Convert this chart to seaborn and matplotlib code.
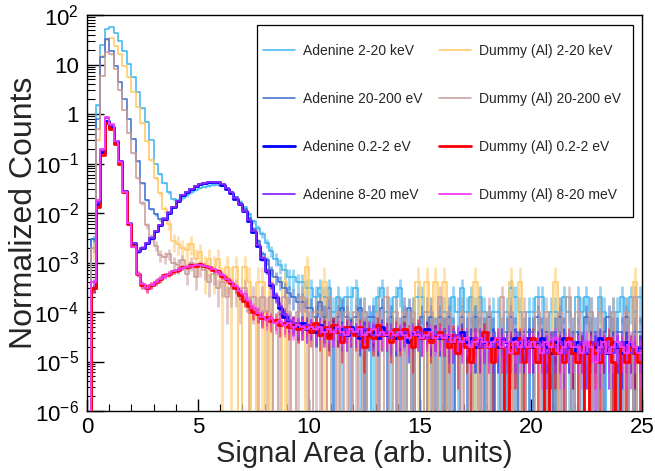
import numpy as np
import seaborn as sns
import matplotlib
matplotlib.use('Agg')
import matplotlib.pyplot as plt
from matplotlib.patches import Rectangle
from matplotlib.ticker import FixedLocator, FixedFormatter, MultipleLocator, LogLocator, NullFormatter

# Histogram binning of the signal area axis (0.2 wide bins over 0-25)
bin_width = 0.2
edges = np.arange(0, 25 + bin_width / 2, bin_width)
centers = edges[:-1] + bin_width / 2

# Normalized counts per bin
ade_kev = [
    0, 0.003, 1.5, 25, 52, 57, 43, 30, 19, 10.5,
    5.5, 2.8, 1.3, 0.7, 0.3, 0.1, 0.062, 0.04, 0.026, 0.019,
    0.018, 0.02, 0.023, 0.026, 0.029, 0.032, 0.034, 0.036, 0.037, 0.037,
    0.035, 0.031, 0.026, 0.021, 0.017, 0.013, 0.0095, 0.0068, 0.005, 0.0037,
    0.0025, 0.0017, 0.0012, 0.0009, 0.0007, 0.0005, 0.0005, 0.0004, 0.0004, 0.0003,
    0.0003, 0.0002, 0.0003, 0.0002, 0.0003, 0.0001, 0.0002, 0.0001, 0.0002, 0.0002,
    0.0003, 0.0001, 0.0001, 0, 0.0001, 0.0002, 0.0003, 0.0001, 0.0001, 0.0002,
    0.0003, 0.0001, 0, 0.0001, 0.0002, 0.0002, 0.0001, 0.0001, 0, 0.0001,
    0.0001, 0.0001, 0.0002, 0.0001, 0.0003, 0.0001, 0.0002, 0.0001, 0.0002, 0.0001,
    0, 0.0001, 0.0001, 0, 0.0001, 0.0003, 0.0002, 0.0001, 0, 0.0001,
    0.0001, 0.0002, 0.0002, 0, 0.0001, 0.0001, 0.0001, 0.0002, 0.0001, 0,
    0.0002, 0.0001, 0.0002, 0.0001, 0, 0.0002, 0.0001, 0, 0.0001, 0.0001,
    0.0002, 0.0001, 0.0002, 0.0001, 0.0002,
]
dum_kev = [
    0, 0.002, 0.3, 15, 32, 34, 24, 16, 9.5, 5.5,
    2.8, 1.4, 0.65, 0.28, 0.12, 0.05, 0.025, 0.012, 0.006, 0.0027,
    0.0024, 0.002, 0.0018, 0.0024, 0.0012, 0.0016, 0.0008, 0.0012, 0.0008, 0.0012,
    0.0004, 0.0008, 0.0004, 0.0008, 0, 0.0008, 0.0004, 0, 0.0004, 0.0004,
    0, 0.0004, 0, 0, 0.0004, 0, 0, 0, 0, 0.0008,
    0, 0, 0, 0.0004, 0, 0, 0, 0, 0, 0,
    0, 0, 0, 0, 0, 0, 0, 0, 0, 0,
    0, 0, 0, 0, 0.0004, 0, 0.0004, 0, 0.0004, 0,
    0.0004, 0, 0, 0, 0, 0, 0, 0.0004, 0, 0,
    0, 0, 0, 0, 0, 0.0004, 0, 0.0004, 0, 0,
    0, 0, 0, 0, 0, 0.0004, 0, 0, 0, 0,
    0, 0, 0, 0, 0, 0, 0, 0, 0, 0,
    0, 0, 0, 0.0004, 0,
]
ade_ev = [
    0, 0.003, 0.8, 14, 33, 19, 9.5, 4.5, 2.0, 0.8,
    0.32, 0.11, 0.04, 0.018, 0.012, 0.0095, 0.0075, 0.0078, 0.0103, 0.0133,
    0.0172, 0.023, 0.027, 0.031, 0.035, 0.038, 0.040, 0.042, 0.043, 0.042,
    0.038, 0.032, 0.027, 0.021, 0.016, 0.0118, 0.0078, 0.0048, 0.0027, 0.0015,
    0.0011, 0.0007, 0.0005, 0.0004, 0.0003, 0.00024, 0.0002, 0.00016, 0.00016, 0.00012,
    0.00012, 0.00008, 0.00016, 0.00008, 0.00012, 0.00004, 0.00008, 0.00012, 0.00008, 0.00004,
    0.00008, 0.00012, 0.00004, 0.00008, 0.00008, 0.00004, 0.00012, 0.00004, 0.00008, 0.00004,
    0.00004, 0.00008, 0.00012, 0.00004, 0, 0.00008, 0.00004, 0.00008, 0.00004, 0.00008,
    0.00004, 0.00008, 0.00004, 0, 0.00008, 0.00004, 0.00004, 0.00008, 0.00004, 0.00004,
    0.00008, 0.00004, 0, 0.00004, 0.00004, 0.00008, 0.00004, 0, 0.00004, 0.00004,
    0.00004, 0.00008, 0.00004, 0.00004, 0, 0.00004, 0.00008, 0.00004, 0, 0.00004,
    0.00004, 0, 0.00008, 0.00004, 0.00004, 0, 0.00004, 0.00008, 0.00004, 0.00004,
    0.00004, 0.00008, 0, 0.00004, 0.00004,
]
dum_ev = [
    0, 0.002, 0.5, 6, 18, 16, 8, 3.0, 1.2, 0.42,
    0.16, 0.05, 0.016, 0.0056, 0.0032, 0.0022, 0.0014, 0.0013, 0.0015, 0.001,
    0.0009, 0.0011, 0.0006, 0.001, 0.0005, 0.0008, 0.0007, 0.0004, 0.0006, 0.0003,
    0.0004, 0.0002, 0.0003, 0.0003, 0.0002, 0.0003, 0.0001, 0.0002, 0.0001, 0.0002,
    0.0001, 0.0002, 0, 0.0001, 0.0002, 0.0001, 0, 0.0001, 0.0002, 0.0001,
    0, 0.0001, 0.0001, 0, 0.0002, 0, 0.0001, 0, 0.0001, 0,
    0.0001, 0, 0.0001, 0, 0, 0.0001, 0, 0.0002, 0, 0.0001,
    0, 0.0001, 0, 0.0001, 0, 0, 0.0001, 0.0001, 0, 0.0002,
    0, 0.0001, 0, 0, 0.0001, 0, 0.0001, 0, 0.0001, 0,
    0.0001, 0, 0, 0.0002, 0, 0.0001, 0, 0, 0.0001, 0,
    0, 0.0001, 0, 0.0001, 0, 0, 0.0001, 0, 0.0002, 0,
    0.0001, 0, 0, 0.0001, 0, 0.0001, 0, 0, 0.0001, 0,
    0, 0.0001, 0, 0.0002, 0,
]
ade_thermal = [
    0, 0.0003, 0.015, 0.17, 0.74, 0.56, 0.28, 0.11, 0.028, 0.0063,
    0.0025, 0.0017, 0.0020, 0.0025, 0.0032, 0.0043, 0.0058, 0.0076, 0.0102, 0.0135,
    0.0174, 0.023, 0.027, 0.031, 0.035, 0.038, 0.040, 0.042, 0.043, 0.042,
    0.037, 0.031, 0.025, 0.0195, 0.015, 0.0108, 0.0069, 0.0042, 0.0022, 0.00118,
    0.00066, 0.00035, 0.0002, 0.00012, 8e-5, 6.3e-5, 5.6e-5, 5e-5, 6e-5, 4.5e-5,
    5e-5, 4e-5, 5.5e-5, 4.5e-5, 3.5e-5, 5e-5, 4e-5, 4.5e-5, 3.5e-5, 5e-5,
    4e-5, 3e-5, 4.5e-5, 3.5e-5, 4e-5, 3e-5, 5e-5, 3.5e-5, 4e-5, 3e-5,
    3.5e-5, 4e-5, 2.5e-5, 4e-5, 3.5e-5, 3e-5, 4.5e-5, 3e-5, 3.5e-5, 3e-5,
    3e-5, 3.5e-5, 2.5e-5, 3e-5, 4e-5, 2.5e-5, 3e-5, 2e-5, 3e-5, 2.5e-5,
    2.5e-5, 3e-5, 2e-5, 3e-5, 2.5e-5, 2e-5, 3e-5, 2.5e-5, 2e-5, 3e-5,
    2e-5, 2.5e-5, 3e-5, 2e-5, 1.5e-5, 2.5e-5, 2e-5, 3e-5, 2e-5, 1.5e-5,
    2.5e-5, 2e-5, 1.5e-5, 2.5e-5, 2e-5, 3e-5, 2e-5, 1.5e-5, 2.5e-5, 2e-5,
    1.5e-5, 2.5e-5, 2e-5, 1.5e-5, 2e-5,
]
dum_thermal = [
    0, 0.0003, 0.013, 0.15, 0.65, 0.5, 0.25, 0.1, 0.026, 0.006,
    0.0022, 0.0006, 0.00035, 0.0003, 0.00035, 0.00041, 0.00046, 0.00055, 0.00059, 0.00067,
    0.00071, 0.0008, 0.00082, 0.00088, 0.00087, 0.00093, 0.00086, 0.00082, 0.00071, 0.00066,
    0.00053, 0.00046, 0.00038, 0.0003, 0.00022, 0.00017, 0.00013, 0.0001, 9e-5, 7.5e-5,
    8e-5, 6.5e-5, 7e-5, 5.5e-5, 6e-5, 5e-5, 6e-5, 4.5e-5, 5e-5, 5.5e-5,
    4e-5, 6e-5, 3.5e-5, 5e-5, 3e-5, 5.5e-5, 4e-5, 2.5e-5, 5e-5, 4e-5,
    3.5e-5, 5e-5, 2e-5, 4.5e-5, 3e-5, 5.5e-5, 3.5e-5, 4e-5, 2.5e-5, 4.5e-5,
    3e-5, 4.5e-5, 3.5e-5, 2e-5, 5e-5, 3e-5, 4e-5, 2.5e-5, 3.5e-5, 4e-5,
    3e-5, 2e-5, 3.5e-5, 1.5e-5, 3e-5, 2e-5, 1e-5, 3e-5, 2e-5, 4e-5,
    2e-5, 1e-5, 3e-5, 2e-5, 0, 2.5e-5, 1.5e-5, 3e-5, 1e-5, 2e-5,
    3e-5, 1e-5, 2e-5, 0, 2.5e-5, 1.5e-5, 2e-5, 1e-5, 3e-5, 1.5e-5,
    1e-5, 2e-5, 0, 2.5e-5, 1.5e-5, 1e-5, 2e-5, 3e-5, 1e-5, 0,
    2e-5, 1e-5, 2e-5, 1.5e-5, 1e-5,
]
ade_cold = [
    0, 0.0004, 0.017, 0.19, 0.82, 0.6, 0.29, 0.11, 0.028, 0.0064,
    0.0025, 0.0017, 0.002, 0.0025, 0.0032, 0.0043, 0.0058, 0.0076, 0.0102, 0.0135,
    0.0174, 0.023, 0.027, 0.031, 0.035, 0.038, 0.040, 0.042, 0.043, 0.042,
    0.038, 0.032, 0.026, 0.020, 0.0155, 0.0112, 0.0072, 0.0044, 0.0023, 0.00125,
    0.00068, 0.00037, 0.00021, 0.00013, 9e-5, 7e-5, 6e-5, 5.5e-5, 5e-5, 5.5e-5,
    5e-5, 4.5e-5, 5e-5, 4e-5, 4.5e-5, 4e-5, 4.5e-5, 3.5e-5, 4.5e-5, 4e-5,
    4e-5, 3.5e-5, 4.5e-5, 4e-5, 3.5e-5, 4e-5, 3.5e-5, 4e-5, 3e-5, 3.5e-5,
    3.5e-5, 4e-5, 3e-5, 3.5e-5, 4e-5, 3e-5, 3.5e-5, 3e-5, 3.5e-5, 3e-5,
    3e-5, 2.5e-5, 3e-5, 3.5e-5, 2.5e-5, 3e-5, 2.5e-5, 3e-5, 2e-5, 2.5e-5,
    2.5e-5, 2e-5, 2.5e-5, 3e-5, 2e-5, 2.5e-5, 2e-5, 2.5e-5, 2e-5, 2.5e-5,
    2e-5, 2.5e-5, 2e-5, 1.5e-5, 2.5e-5, 2e-5, 2.5e-5, 1.5e-5, 2e-5, 2.5e-5,
    2e-5, 2.5e-5, 1.5e-5, 2e-5, 2.5e-5, 1.5e-5, 2e-5, 2e-5, 1.5e-5, 2e-5,
    2.5e-5, 2e-5, 1.5e-5, 2e-5, 2e-5,
]
dum_cold = [
    0, 0.0004, 0.018, 0.2, 0.86, 0.62, 0.28, 0.105, 0.027, 0.0062,
    0.0021, 0.00058, 0.00036, 0.00031, 0.00035, 0.0004, 0.00047, 0.00053, 0.0006, 0.00066,
    0.00072, 0.00078, 0.00083, 0.00086, 0.00089, 0.0009, 0.00087, 0.00081, 0.00074, 0.00064,
    0.00056, 0.00047, 0.0004, 0.00033, 0.00026, 0.00023, 0.00017, 0.00012, 9.5e-5, 8e-5,
    7e-5, 7.5e-5, 6e-5, 6.5e-5, 5.5e-5, 6e-5, 5e-5, 5.5e-5, 5e-5, 4.5e-5,
    5e-5, 4.5e-5, 5e-5, 4e-5, 4.5e-5, 4e-5, 5e-5, 4e-5, 3.5e-5, 4.5e-5,
    4e-5, 4.5e-5, 3.5e-5, 4e-5, 4.5e-5, 3.5e-5, 4e-5, 3.5e-5, 4e-5, 3.5e-5,
    4e-5, 3.5e-5, 3e-5, 4e-5, 3.5e-5, 3e-5, 3.5e-5, 4e-5, 3e-5, 3.5e-5,
    3e-5, 3.5e-5, 2.5e-5, 3e-5, 2.5e-5, 3e-5, 2e-5, 2.5e-5, 3e-5, 2.5e-5,
    2e-5, 2.5e-5, 3e-5, 2e-5, 2.5e-5, 1.5e-5, 2.5e-5, 2e-5, 3e-5, 2e-5,
    2.5e-5, 2e-5, 1.5e-5, 2.5e-5, 2e-5, 3e-5, 1.5e-5, 2e-5, 2.5e-5, 2e-5,
    2e-5, 1.5e-5, 2.5e-5, 2e-5, 1e-5, 2e-5, 2.5e-5, 1.5e-5, 2e-5, 2.5e-5,
    2e-5, 1.5e-5, 2.5e-5, 2e-5, 1.5e-5,
]

# (label, values, colour, line width, value of one count for the error bars)
# listed in drawing order (row by row, like the legend of the original)
series = [
    ('Adenine 2-20 keV', ade_kev, '#3cb4f0', 1.1, 1e-4),
    ('Dummy (Al) 2-20 keV', dum_kev, '#ffc864', 1.1, 4e-4),
    ('Adenine 20-200 eV', ade_ev, '#3a6ccf', 1.1, 4e-5),
    ('Dummy (Al) 20-200 eV', dum_ev, '#c89a96', 1.1, 1e-4),
    ('Adenine 0.2-2 eV', ade_thermal, '#0000ff', 2.0, 1e-5),
    ('Dummy (Al) 0.2-2 eV', dum_thermal, '#ff0000', 2.0, 1e-5),
    ('Adenine 8-20 meV', ade_cold, '#8c28ff', 1.3, 1e-5),
    ('Dummy (Al) 8-20 meV', dum_cold, '#f53cf5', 1.3, 1e-5),
]

y_ticks = [1e-6, 1e-5, 1e-4, 1e-3, 1e-2, 1e-1, 1, 10, 100]
y_tick_labels = [r'$\mathregular{10^{-6}}$', r'$\mathregular{10^{-5}}$', r'$\mathregular{10^{-4}}$',
                 r'$\mathregular{10^{-3}}$', r'$\mathregular{10^{-2}}$', r'$\mathregular{10^{-1}}$',
                 '1', '10', r'$\mathregular{10^{2}}$']

sns.set_theme(style='ticks')
plt.rcParams['font.family'] = ['Liberation Sans', 'DejaVu Sans']
plt.rcParams['mathtext.fontset'] = 'custom'
plt.rcParams['mathtext.rm'] = 'Liberation Sans'
plt.rcParams['mathtext.it'] = 'Liberation Sans:italic'

fig, ax = plt.subplots(figsize=(6.55, 4.71), dpi=100)
fig.subplots_adjust(left=0.1328, right=0.980, top=0.968, bottom=0.1274)

floor = 1e-9  # empty bins drop to the bottom of the log axis
for label, vals, color, lw, unit in series:
    vals = np.asarray(vals, dtype=float)
    filled = vals > 0
    err = np.sqrt(vals * unit)
    lo = np.clip(vals - err, floor, None)
    ax.vlines(centers[filled], lo[filled], (vals + err)[filled],
              color=color, alpha=0.55, linewidth=2.0, zorder=2)
    sns.lineplot(x=edges, y=np.clip(np.append(vals, vals[-1]), floor, None), ax=ax,
                 color=color, linewidth=lw, drawstyle='steps-post',
                 label=label, estimator=None, zorder=3)

ax.set_yscale('log')
ax.set_xlim(0, 25)
ax.set_ylim(1e-6, 100)

ax.yaxis.set_major_locator(FixedLocator(y_ticks))
ax.yaxis.set_major_formatter(FixedFormatter(y_tick_labels))
ax.yaxis.set_minor_locator(LogLocator(base=10, subs=np.arange(2, 10)))
ax.yaxis.set_minor_formatter(NullFormatter())
ax.xaxis.set_major_locator(MultipleLocator(5))
ax.xaxis.set_minor_locator(MultipleLocator(1))

ax.tick_params(axis='both', which='both', direction='in', top=False, right=False,
               colors='black', labelsize=16)
ax.tick_params(axis='y', which='major', length=12, width=1, pad=6)
ax.tick_params(axis='y', which='minor', length=6, width=0.8)
ax.tick_params(axis='x', which='major', length=9, width=1, pad=4)
ax.tick_params(axis='x', which='minor', length=5, width=0.8)
for sp in ax.spines.values():
    sp.set_visible(True)
    sp.set_color('black')
    sp.set_linewidth(1.0)

ax.set_xlabel('Signal Area (arb. units)', fontsize=21, labelpad=2)
ax.set_ylabel('Normalized Counts', fontsize=23, labelpad=-3)

# legend filled column by column: Adenine on the left, Dummy on the right
handles, labels = ax.get_legend_handles_labels()
by_label = dict(zip(labels, handles))
legend_order = [s[0] for s in series[0::2]] + [s[0] for s in series[1::2]]
leg = ax.legend([by_label[l] for l in legend_order], legend_order, ncol=2,
                loc='upper left', bbox_to_anchor=(0.317, 0.928), borderaxespad=0,
                borderpad=0, fontsize=10, frameon=False,
                handlelength=2.3, handletextpad=0.6, labelspacing=2.45,
                columnspacing=1.15)
ax.add_patch(Rectangle((0.3063, 0.4899), 0.6775, 0.4848, transform=ax.transAxes,
                       facecolor='white', edgecolor='black', linewidth=0.9, zorder=4))
leg.set_zorder(5)

fig.savefig('out.png', dpi=100)
